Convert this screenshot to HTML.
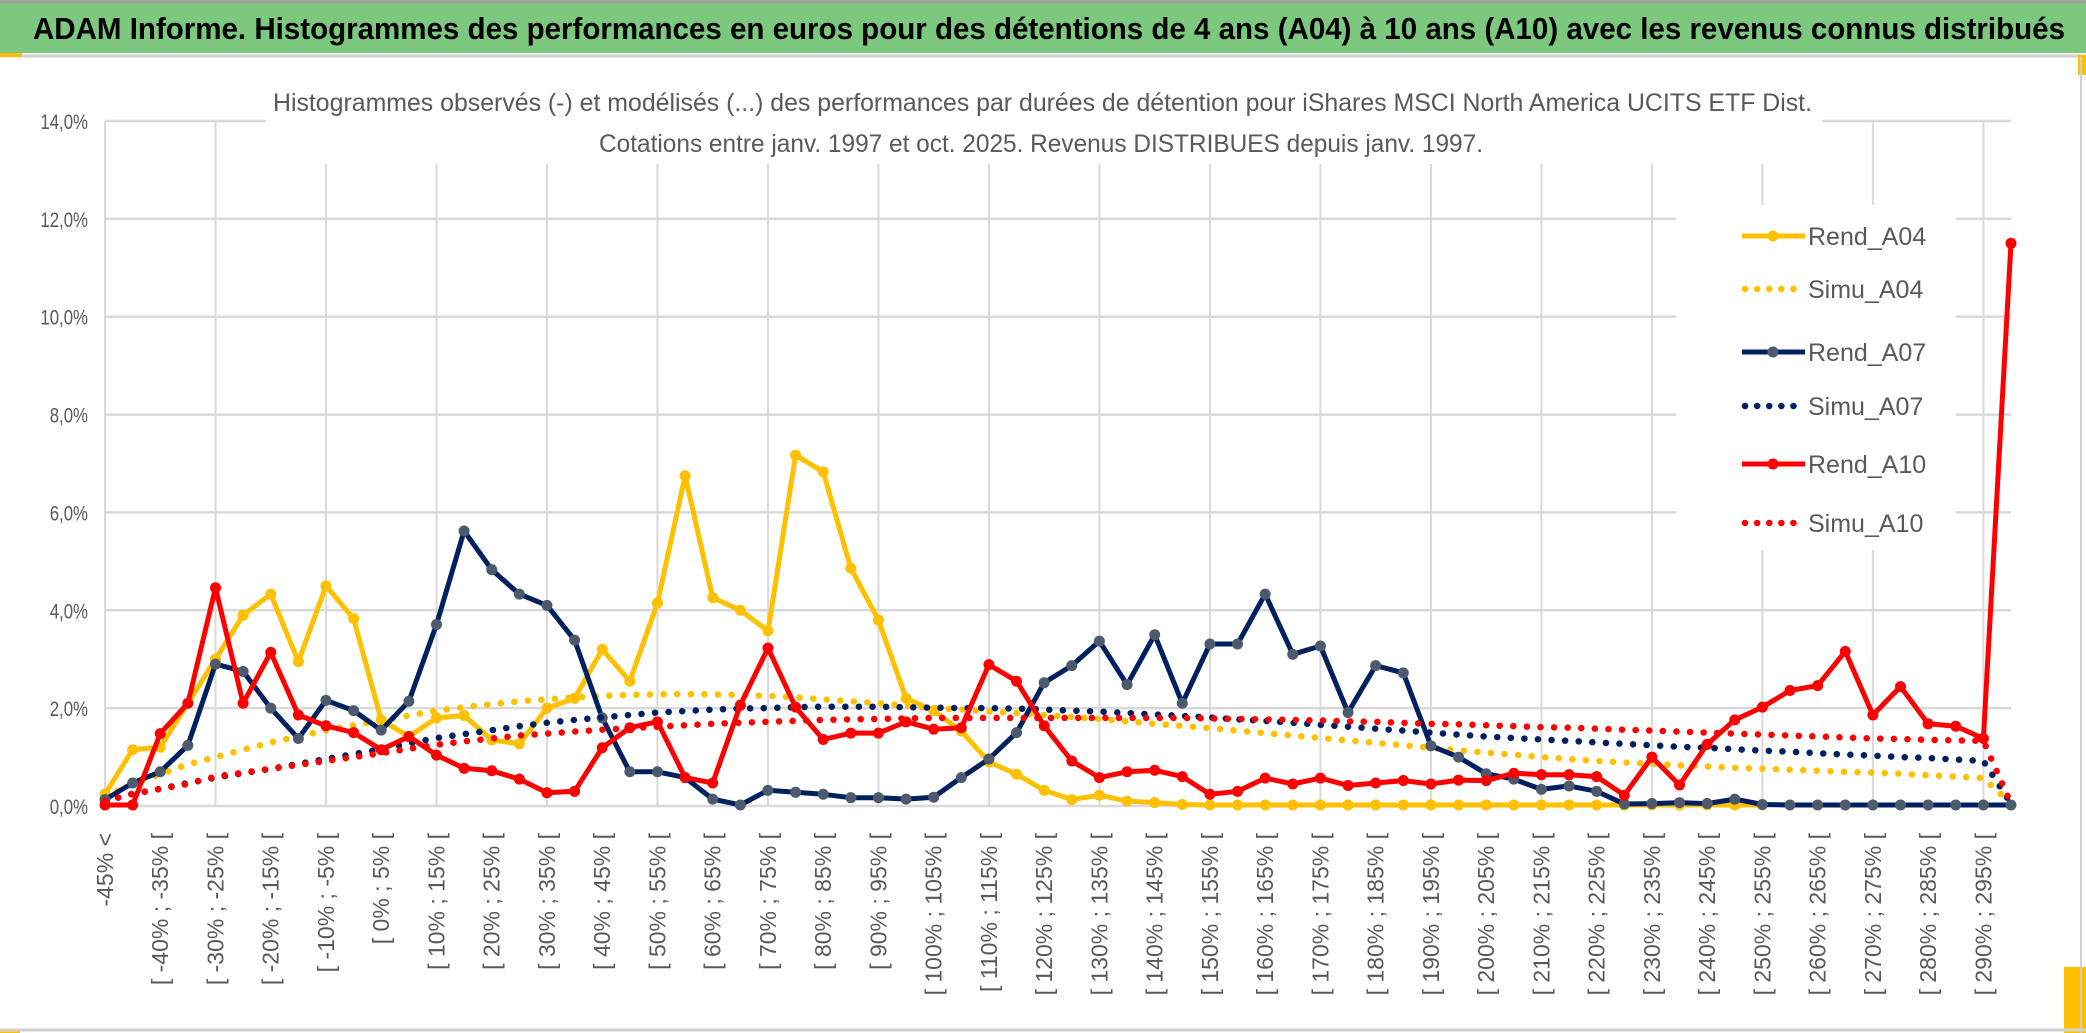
<!DOCTYPE html>
<html><head><meta charset="utf-8"><style>
html,body{margin:0;padding:0;background:#fff;}
svg{display:block;}
</style></head><body>
<svg id="chart" width="2086" height="1033" viewBox="0 0 2086 1033" xmlns="http://www.w3.org/2000/svg">
<rect x="0" y="0" width="2086" height="1033" fill="#fff"/>
<rect x="0" y="3" width="2086" height="50" fill="#7dc87f"/>
<line x1="0" y1="1.5" x2="2086" y2="1.5" stroke="#a0a0a0" stroke-width="3"/>
<line x1="0" y1="56" x2="2086" y2="56" stroke="#d0d0d0" stroke-width="3"/>
<rect x="0" y="53" width="22" height="4" fill="#ffc000"/>
<rect x="2078" y="55" width="8" height="20" fill="#ffc000"/>
<rect x="2064" y="967" width="22" height="66" fill="#ffc000"/>
<rect x="0" y="1029" width="20" height="4" fill="#ffc000"/>
<line x1="0" y1="1030" x2="2086" y2="1030" stroke="#d0d0d0" stroke-width="3"/>
<line x1="2081" y1="57" x2="2081" y2="1033" stroke="#d0d0d0" stroke-width="2"/>
<text x="33" y="39" font-family="'Liberation Sans Narrow','Liberation Sans',sans-serif" font-weight="bold" font-size="31" fill="#000" textLength="2032" lengthAdjust="spacingAndGlyphs">ADAM Informe. Histogrammes des performances en euros pour des détentions de 4 ans (A04) à 10 ans (A10) avec les revenus connus distribués</text>
<g id="grid"></g>
<rect x="266" y="112" width="1556" height="52" fill="#fff"/>
<text x="273" y="111" font-family="'Liberation Sans Narrow','Liberation Sans',sans-serif" font-size="25" fill="#595959" textLength="1539" lengthAdjust="spacingAndGlyphs">Histogrammes observés (-) et modélisés (...) des performances par durées de détention pour iShares MSCI North America UCITS ETF Dist.</text>
<text x="599" y="152" font-family="'Liberation Sans Narrow','Liberation Sans',sans-serif" font-size="25" fill="#595959" textLength="884" lengthAdjust="spacingAndGlyphs">Cotations entre janv. 1997 et oct. 2025. Revenus DISTRIBUES depuis janv. 1997.</text>
<g id="yaxis"></g>
<g id="xaxis"></g>
<g id="series"></g>
<g id="legend"></g>
</svg>
<script>
const categories = ["-45% <"];
for (let k = -45; k < 300; k += 5) categories.push("[ " + k + "% ; " + (k + 5) + "% [");
const yTicks = [0, 2, 4, 6, 8, 10, 12, 14];
const yTickLabels = ["0,0%", "2,0%", "4,0%", "6,0%", "8,0%", "10,0%", "12,0%", "14,0%"];
const seriesNames = ["Rend_A04", "Simu_A04", "Rend_A07", "Simu_A07", "Rend_A10", "Simu_A10"];
const rendA04 = [0.24,1.15,1.2,2.1,3.0,3.9,4.33,2.95,4.5,3.83,1.76,1.42,1.8,1.85,1.35,1.27,2.0,2.2,3.2,2.55,4.15,6.75,4.26,4.0,3.58,7.17,6.83,4.86,3.8,2.2,1.95,1.53,0.9,0.65,0.32,0.13,0.22,0.1,0.07,0.03,0.02,0.02,0.02,0.02,0.02,0.02,0.02,0.02,0.02,0.02,0.02,0.02,0.02,0.02,0.02,0.02,0.02,0.02,0.02,0.02,0.02,null,null,null,null,null,null,null,null,null];
const simuA04 = [0.2,0.45,0.65,0.85,1.0,1.15,1.3,1.42,1.55,1.65,1.75,1.85,1.95,2.02,2.08,2.14,2.18,2.22,2.25,2.27,2.28,2.29,2.28,2.27,2.25,2.22,2.18,2.14,2.1,2.05,2.0,1.97,1.93,1.9,1.86,1.82,1.78,1.73,1.68,1.64,1.59,1.54,1.49,1.44,1.39,1.34,1.29,1.24,1.19,1.14,1.09,1.05,1.0,0.96,0.92,0.89,0.86,0.83,0.81,0.78,0.76,0.74,0.72,0.7,0.68,0.66,0.63,0.6,0.57,0.05];
const rendA07 = [0.13,0.47,0.7,1.24,2.9,2.75,2.0,1.38,2.16,1.95,1.55,2.14,3.71,5.62,4.83,4.33,4.1,3.39,1.8,0.7,0.7,0.58,0.14,0.02,0.32,0.28,0.24,0.17,0.17,0.14,0.18,0.58,0.96,1.5,2.52,2.87,3.37,2.48,3.5,2.1,3.31,3.31,4.33,3.1,3.27,1.91,2.87,2.72,1.23,1.0,0.66,0.55,0.34,0.41,0.3,0.04,0.05,0.07,0.05,0.14,0.03,0.02,0.02,0.02,0.02,0.02,0.02,0.02,0.02,0.02];
const simuA07 = [0.1,0.25,0.35,0.47,0.58,0.67,0.76,0.86,0.96,1.06,1.16,1.28,1.39,1.47,1.55,1.63,1.7,1.76,1.81,1.86,1.91,1.94,1.97,1.99,2.0,2.02,2.03,2.03,2.03,2.02,2.01,2.0,2.0,1.99,1.97,1.95,1.93,1.9,1.87,1.84,1.81,1.77,1.74,1.7,1.66,1.62,1.58,1.54,1.5,1.46,1.42,1.39,1.36,1.33,1.3,1.27,1.24,1.21,1.19,1.16,1.13,1.11,1.08,1.05,1.03,1.0,0.98,0.95,0.92,0.05];
const rendA10 = [0.02,0.02,1.48,2.1,4.46,2.1,3.14,1.86,1.64,1.5,1.15,1.42,1.04,0.77,0.72,0.55,0.27,0.3,1.19,1.6,1.72,0.58,0.47,2.06,3.23,2.02,1.36,1.49,1.49,1.72,1.57,1.6,2.89,2.55,1.64,0.92,0.58,0.7,0.73,0.6,0.24,0.3,0.57,0.45,0.57,0.42,0.47,0.52,0.45,0.53,0.52,0.67,0.64,0.64,0.6,0.22,1.0,0.43,1.26,1.76,2.02,2.36,2.46,3.16,1.86,2.44,1.68,1.63,1.38,11.5];
const simuA10 = [0.1,0.25,0.35,0.45,0.6,0.68,0.76,0.84,0.92,1.0,1.08,1.17,1.25,1.32,1.38,1.44,1.48,1.52,1.56,1.59,1.62,1.65,1.68,1.7,1.72,1.74,1.76,1.77,1.78,1.79,1.8,1.8,1.8,1.8,1.8,1.8,1.8,1.8,1.8,1.8,1.79,1.78,1.77,1.76,1.75,1.73,1.72,1.7,1.68,1.67,1.65,1.63,1.61,1.6,1.58,1.56,1.54,1.52,1.5,1.48,1.46,1.44,1.42,1.4,1.38,1.37,1.35,1.34,1.33,0.05];

const NS = "http://www.w3.org/2000/svg";
const X0 = 105, X1 = 2011, Y0 = 806, Y14 = 121;
const xScale = i => X0 + i * (X1 - X0) / (categories.length - 1);
const yScale = v => Y0 - v * (Y0 - Y14) / 14;
function mk(tag, attrs, parent) { const e = document.createElementNS(NS, tag); for (const k in attrs) e.setAttribute(k, attrs[k]); parent.appendChild(e); return e; }

const grid = document.getElementById("grid");
yTicks.forEach(t => {
  const l = mk("line", {x1: X0, x2: X1, y1: yScale(t), y2: yScale(t), stroke: "#d9d9d9", "stroke-width": 2.5}, grid);
  
  
});
for (let i = 0; i < categories.length; i += 4) {
  const l = mk("line", {x1: xScale(i), x2: xScale(i), y1: Y14, y2: Y0, stroke: "#d9d9d9", "stroke-width": 2}, grid);
  
  
}
const ya = document.getElementById("yaxis");
yTicks.forEach((t, k) => {
  const y = yScale(t) + 8;
  const tx = mk("text", {x: 88, y: y, transform: `translate(88 0) scale(0.8 1) translate(-88 0)`, "text-anchor": "end", "font-family": "'Liberation Sans Narrow','Liberation Sans',sans-serif", "font-size": 21, fill: "#595959"}, ya);
  tx.textContent = yTickLabels[k];
  
  
});
const xa = document.getElementById("xaxis");
for (let i = 0; i < categories.length; i += 2) {
  const x = xScale(i) + 8, y = 833;
  const tx = mk("text", {x: x, y: y, transform: `rotate(-90 ${x} ${y})`, "text-anchor": "end", "font-family": "'Liberation Sans',sans-serif", "font-size": 23, fill: "#595959"}, xa);
  tx.textContent = categories[i];
  
  
}

const ser = document.getElementById("series");
function pathOf(vals) {
  let d = "", started = false;
  vals.forEach((v, i) => { if (v === null) { started = false; return; } d += (started ? "L" : "M") + xScale(i).toFixed(1) + " " + yScale(v).toFixed(1) + " "; started = true; });
  return d;
}
function drawRend(vals, color, mcolor, name) {
  const g = mk("g", {}, ser);
  
  
  mk("path", {d: pathOf(vals), fill: "none", stroke: color, "stroke-width": 5, "stroke-linejoin": "round"}, g);
  vals.forEach((v, i) => {
    if (v === null) return;
    const c = mk("circle", {cx: xScale(i), cy: yScale(v), r: 5.5, fill: mcolor}, g);
    
    
  });
}
function drawSimu(vals, color, name) {
  const p = mk("path", {d: pathOf(vals), fill: "none", stroke: color, "stroke-width": 6.5, "stroke-linecap": "round", "stroke-dasharray": "0.1 13.5"}, ser);
  
  
}
drawRend(rendA04, "#ffc000", "#ffc000", "rend-a04-line");
drawSimu(simuA04, "#ffc000", "simu-a04-line");
drawRend(rendA07, "#002060", "#4d5a6e", "rend-a07-line");
drawSimu(simuA07, "#002060", "simu-a07-line");
drawRend(rendA10, "#ff0000", "#ff0000", "rend-a10-line");
drawSimu(simuA10, "#ff0000", "simu-a10-line");

const lg = document.getElementById("legend");
mk("rect", {x: 1676, y: 205, width: 280, height: 345, fill: "#fff"}, lg);
const legY = [236, 289, 352, 406, 464, 523];
const legC = ["#ffc000", "#ffc000", "#002060", "#002060", "#ff0000", "#ff0000"];
const legM = ["#ffc000", null, "#4d5a6e", null, "#ff0000", null];
seriesNames.forEach((n, k) => {
  const g = mk("g", {}, lg);
  
  
  const y = legY[k];
  if (legM[k]) {
    mk("line", {x1: 1742, x2: 1805, y1: y, y2: y, stroke: legC[k], "stroke-width": 5}, g);
    mk("circle", {cx: 1773, cy: y, r: 5.5, fill: legM[k]}, g);
  } else {
    mk("line", {x1: 1745, x2: 1805, y1: y, y2: y, stroke: legC[k], "stroke-width": 6.5, "stroke-linecap": "round", "stroke-dasharray": "0.1 12"}, g);
  }
  const t = mk("text", {x: 1808, y: y + 9, "font-family": "'Liberation Sans Narrow','Liberation Sans',sans-serif", "font-size": 25, fill: "#595959"}, g);
  t.textContent = n;
});
</script>
</body></html>
